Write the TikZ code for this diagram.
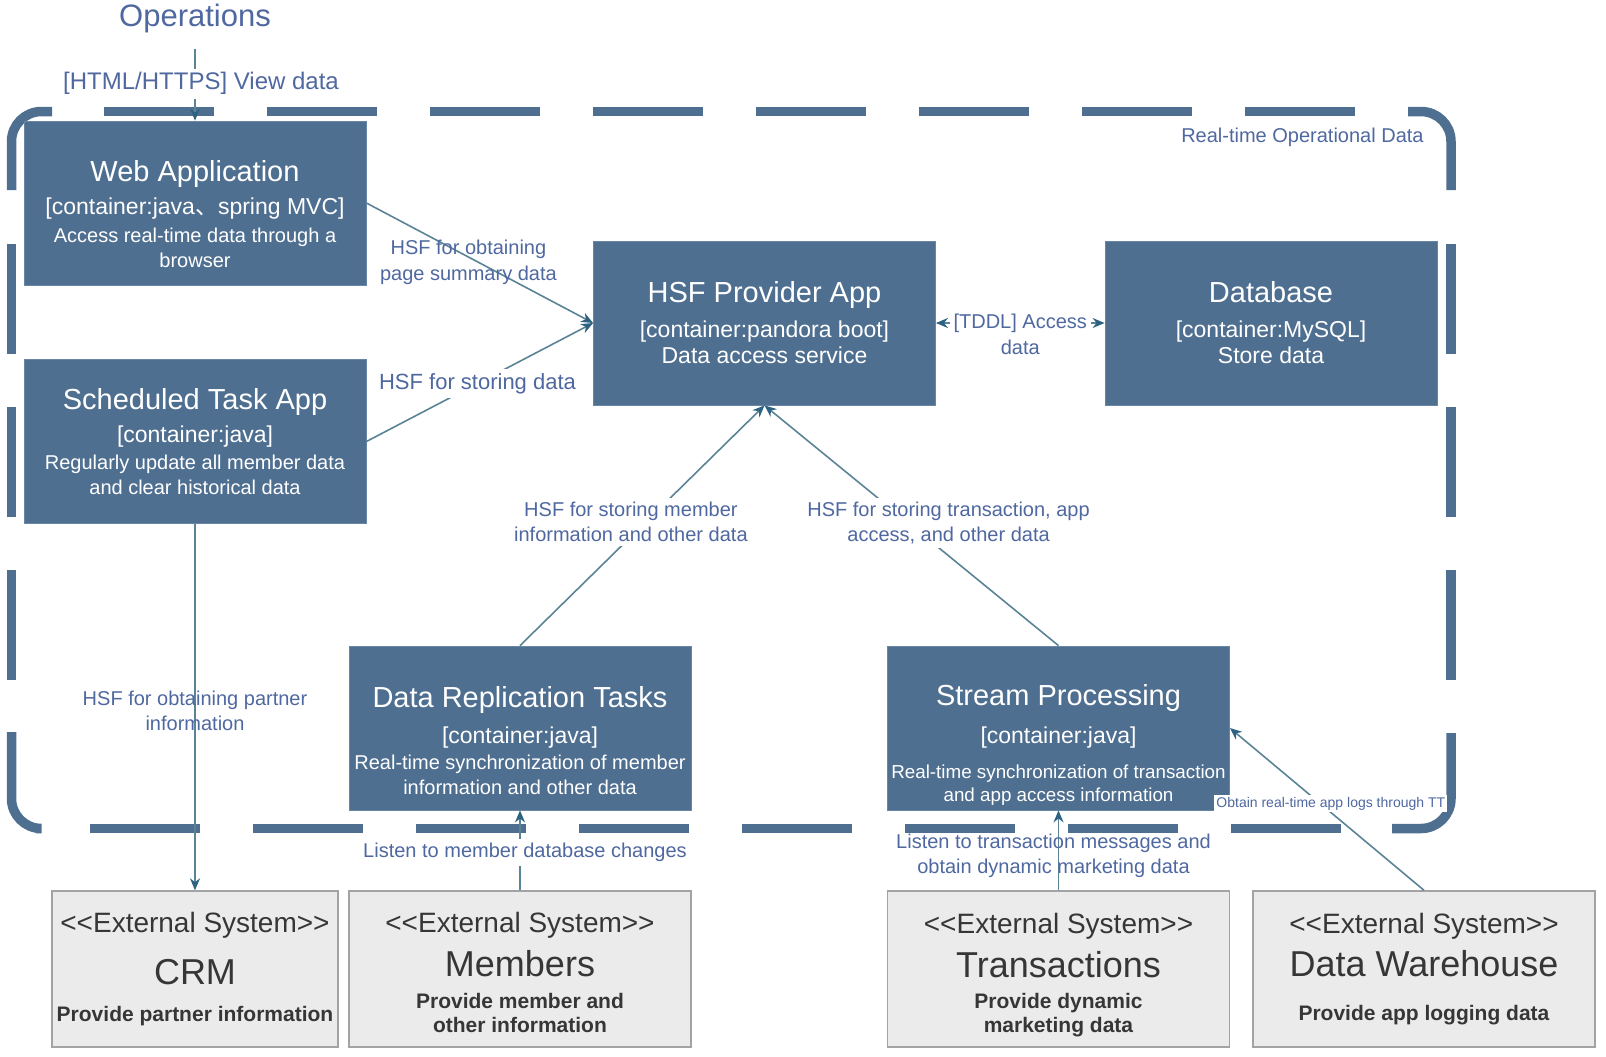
\documentclass[tikz,border=0pt]{standalone}
\usepackage{fontspec}
\setmainfont{Liberation Sans}
\newfontfamily\cjkfont{Noto Sans CJK SC}
\usepackage{tikz}
\usetikzlibrary{arrows, arrows.meta}

\definecolor{c4blue}{HTML}{4F6F91}
\definecolor{c4edge}{HTML}{6A86A6}
\definecolor{extfill}{HTML}{EBEBEB}
\definecolor{extline}{HTML}{A3A3A3}
\definecolor{exttext}{HTML}{363636}
\definecolor{tagblue}{HTML}{4F68A0}
\definecolor{linkline}{HTML}{5A8496}
\definecolor{linktip}{HTML}{2E6282}

\newcommand{\boxtitle}[1]{{\fontsize{14.5}{17}\selectfont #1}}
\newcommand{\boxtech}[1]{{\fontsize{11.5}{13}\selectfont #1}}
\newcommand{\exttag}[1]{{\fontsize{14}{16}\selectfont #1}}
\newcommand{\extname}[1]{{\fontsize{18}{21}\selectfont #1}}

\tikzstyle{container} = [rectangle, minimum width=171pt, minimum height=82pt, inner sep=0pt, align=center, draw=c4edge, fill=c4blue, text=white, font=\fontsize{10}{12.25}\selectfont]
\tikzstyle{external} = [rectangle, minimum width=171pt, minimum height=78pt, inner sep=0pt, align=center, draw=extline, line width=0.7pt, fill=extfill, text=exttext, font=\fontsize{10.5}{12}\selectfont]
\tikzstyle{arrow} = [linkline, line width=0.8pt, ->, >={Stealth[length=6pt, width=5pt, color=linktip]}]
\tikzstyle{tag} = [text=tagblue, font=\fontsize{10}{12.8}\selectfont, align=center, inner sep=1pt]
\tikzstyle{tagbox} = [tag, fill=white, inner sep=2pt]
\tikzstyle{boundary} = [c4blue, line width=4.75pt, rounded corners=15pt]
\tikzstyle{boundarydash} = [c4blue, line width=4.75pt, dash pattern=on 55pt off 26.5pt]

\begin{document}
\begin{tikzpicture}[x=0.5pt, y=-0.5pt, node distance=100pt]
\useasboundingbox (0,0) rectangle (1606,1056);

% system boundary
\draw [boundary] (11.5,190) -- (11.5,111.5) -- (52,111.5);
\draw [boundary] (1408,111.5) -- (1451,111.5) -- (1451,190);
\draw [boundary] (1451,733) -- (1451,828.5) -- (1392,828.5);
\draw [boundary] (36,828.5) -- (11.5,828.5) -- (11.5,732);
\draw [boundarydash] (104,111.5) -- (1355,111.5);
\draw [boundarydash] (1451,244) -- (1451,680);
\draw [boundarydash] (1341,828.5) -- (88,828.5);
\draw [boundarydash] (11.5,680) -- (11.5,244);
\node (boundlabel) [tag, anchor=east, inner sep=0pt, font=\fontsize{10}{12}\selectfont] at (1424,137) {Real-time Operational Data};

\node (ops) at (195,18) [tag, inner sep=0pt, font=\fontsize{15.5}{18}\selectfont] {Operations};
\node (web) [container, below of=ops, yshift=7.5pt] {\mbox{}\\[9.5pt]\boxtitle{Web Application}\\[4.25pt]\boxtech{[container:java{\cjkfont 、}spring MVC]}\\[1.75pt]Access real-time data through a\\browser};
\node (sched) [container, below of=web, yshift=-19.25pt] {\boxtitle{Scheduled Task App}\\[4.25pt]\boxtech{[container:java]}\\[1.25pt]Regularly update all member data\\and clear historical data};
\node (hsf) [container, right of=web, xshift=184.75pt, yshift=-60pt, font=\fontsize{11.5}{13}\selectfont] {\boxtitle{HSF Provider App}\\[4.5pt]\boxtech{[container:pandora boot]}\\Data access service};
\node (db) [container, right of=hsf, xshift=153.25pt, minimum width=166pt, font=\fontsize{11.5}{13}\selectfont] {\boxtitle{Database}\\[4.5pt]\boxtech{[container:MySQL]}\\Store data};
\node (repl) [container, below of=hsf, xshift=-122.25pt, yshift=-102.5pt] {\mbox{}\\[11pt]\boxtitle{Data Replication Tasks}\\[5.5pt]\boxtech{[container:java]}\\[1pt]Real-time synchronization of member\\information and other data};
\node (stream) [container, right of=repl, xshift=169.25pt, font=\fontsize{9.4}{11.75}\selectfont] {\mbox{}\\[16pt]\boxtitle{Stream Processing}\\[7.15pt]\boxtech{[container:java]}\\[5.65pt]Real-time synchronization of transaction\\and app access information};

\node (crm) [external, below of=sched, yshift=-163.75pt, minimum width=143pt] {\exttag{<{}<External System>{}>}\\[9.5pt]\extname{CRM}\\[6.5pt]\textbf{Provide partner information}};
\node (members) [external, below of=repl, yshift=-20.5pt] {\mbox{}\\[1.8pt]\exttag{<{}<External System>{}>}\\[5pt]\extname{Members}\\[4pt]\textbf{Provide member and}\\\textbf{other information}};
\node (trans) [external, below of=stream, yshift=-20.5pt] {\mbox{}\\[4.3pt]\exttag{<{}<External System>{}>}\\[5pt]\extname{Transactions}\\[3.5pt]\textbf{Provide dynamic}\\\textbf{marketing data}};
\node (dw) [external, right of=trans, xshift=82.75pt] {\exttag{<{}<External System>{}>}\\[4.5pt]\extname{Data Warehouse}\\[10pt]\textbf{Provide app logging data}};

\draw [arrow, shorten <=8pt] (ops) -- (web) node [tagbox, pos=0.58, xshift=3pt, font=\fontsize{12}{14}\selectfont] {[HTML/HTTPS] View data};
\draw [arrow] (web.east) -- (hsf.west) node [tag, pos=0.45, yshift=-2.7pt] {HSF for obtaining\\page summary data};
\draw [arrow] (sched.east) -- (hsf.west) node [tagbox, pos=0.49, font=\fontsize{11}{13}\selectfont] {HSF for storing data};
\draw [arrow, <->] (hsf.east) -- (db.west) node [tagbox, midway, yshift=-5.75pt] {[TDDL] Access\\data};
\draw [arrow] (repl.north) -- (hsf.south) node [tagbox, pos=0.515, xshift=-7.5pt] {HSF for storing member\\information and other data};
\draw [arrow] (stream.north) -- (hsf.south) node [tagbox, pos=0.51, xshift=20pt] {HSF for storing transaction, app\\access, and other data};
\draw [arrow] (sched.south) -- (crm.north) node [tag, pos=0.51] {HSF for obtaining partner\\information};
\draw [arrow] (members.north) -- (repl.south) node [tagbox, pos=0.47, xshift=2.5pt] {Listen to member database changes};
\draw [arrow] (trans.north) -- (stream.south) node [tag, pos=0.43, xshift=-2.5pt] {Listen to transaction messages and\\obtain dynamic marketing data};
\draw [arrow] (dw.north) -- (stream.east) node [tagbox, pos=0.48, yshift=4.5pt, inner sep=1pt, font=\fontsize{7}{8}\selectfont] {Obtain real-time app logs through TT};

\end{tikzpicture}
\end{document}
